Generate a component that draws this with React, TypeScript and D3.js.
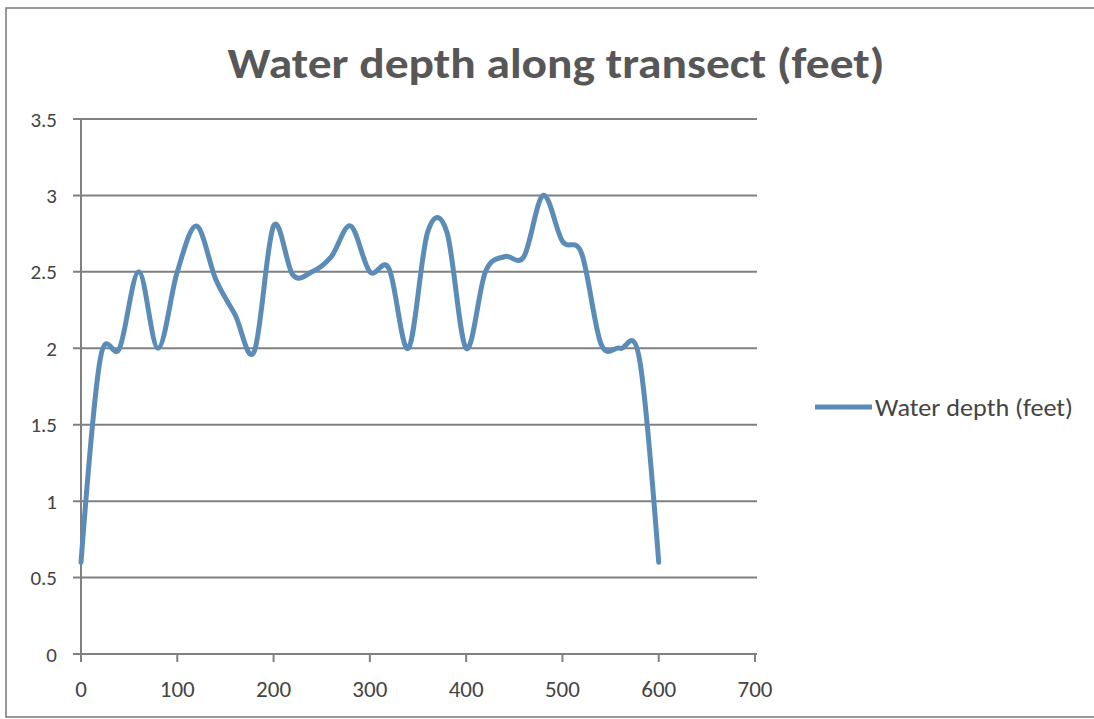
import React from "react";
import * as d3 from "d3";

const distances = [0, 20, 40, 60, 80, 100, 120, 140, 160, 180, 200, 220, 240, 260, 280, 300, 320, 340, 360, 380, 400, 420, 440, 460, 480, 500, 520, 540, 560, 580, 600];
const depths = [0.6, 1.93, 2.0, 2.5, 2.0, 2.5, 2.8, 2.45, 2.22, 1.98, 2.8, 2.48, 2.5, 2.6, 2.8, 2.5, 2.52, 2.0, 2.76, 2.76, 2.0, 2.5, 2.6, 2.6, 3.0, 2.7, 2.62, 2.03, 2.0, 1.93, 0.6];
const yTicks = [0, 0.5, 1, 1.5, 2, 2.5, 3, 3.5];
const xTicks = [0, 100, 200, 300, 400, 500, 600, 700];
const title = "Water depth along transect (feet)";
const seriesName = "Water depth (feet)";

const W = 1094;
const H = 719;
const left = 81;
const right = 755;
const top = 119;
const bottom = 654;
const lineColor = "#5b8cb7";
const gridColor = "#808080";
const textColor = "#444444";
const font = "Carlito, Calibri, Lato, 'Open Sans', sans-serif";

export default function App() {
  const x = d3.scaleLinear().domain([0, 700]).range([left, right]);
  const y = d3.scaleLinear().domain([0, 3.5]).range([bottom, top]);
  const pts: [number, number][] = distances.map((d, i) => [d, depths[i]]);
  const line = d3
    .line<[number, number]>()
    .x((d) => x(d[0]))
    .y((d) => y(d[1]))
    .curve(d3.curveCatmullRom.alpha(0));
  return (
    <svg
      width={W}
      height={H}
      style={{ position: "absolute", left: 0, top: 0, background: "#fff" }}
    >
      <rect x={0} y={0} width={W} height={H} fill="#fff" />
      <rect x={6} y={8} width={W + 10} height={709} fill="none" stroke="#777" strokeWidth={1.5} />
      <text
        x={556}
        y={78}
        textAnchor="middle"
        fontFamily={font}
        fontWeight="bold"
        fontSize={42}
        fill="#575757"
        textLength={657}
        lengthAdjust="spacingAndGlyphs"
      >
        {title}
      </text>
      {yTicks.map((t) => (
        <g key={"y" + t}>
          <line x1={73} x2={right + 2} y1={y(t)} y2={y(t)} stroke={gridColor} strokeWidth={2} />
          <text
            x={57}
            y={y(t)}
            dy="0.36em"
            textAnchor="end"
            fontFamily={font}
            fontSize={21}
            fill={textColor}
          >
            {t}
          </text>
        </g>
      ))}
      <line x1={left} x2={left} y1={top} y2={bottom} stroke={gridColor} strokeWidth={2} />
      {xTicks.map((t) => (
        <g key={"x" + t}>
          <line x1={x(t)} x2={x(t)} y1={bottom} y2={bottom + 8} stroke={gridColor} strokeWidth={2} />
          <text
            x={x(t)}
            y={697}
            textAnchor="middle"
            fontFamily={font}
            fontSize={23}
            fill={textColor}
          >
            {t}
          </text>
        </g>
      ))}
      <path d={line(pts) || ""} fill="none" stroke={lineColor} strokeWidth={5} strokeLinejoin="round" strokeLinecap="round" />
      <line x1={815} x2={872} y1={407} y2={407} stroke={lineColor} strokeWidth={5} />
      <text
        x={875}
        y={407}
        dy="0.36em"
        fontFamily={font}
        fontSize={25}
        fill={textColor}
        textLength={198}
        lengthAdjust="spacingAndGlyphs"
      >
        {seriesName}
      </text>
    </svg>
  );
}
